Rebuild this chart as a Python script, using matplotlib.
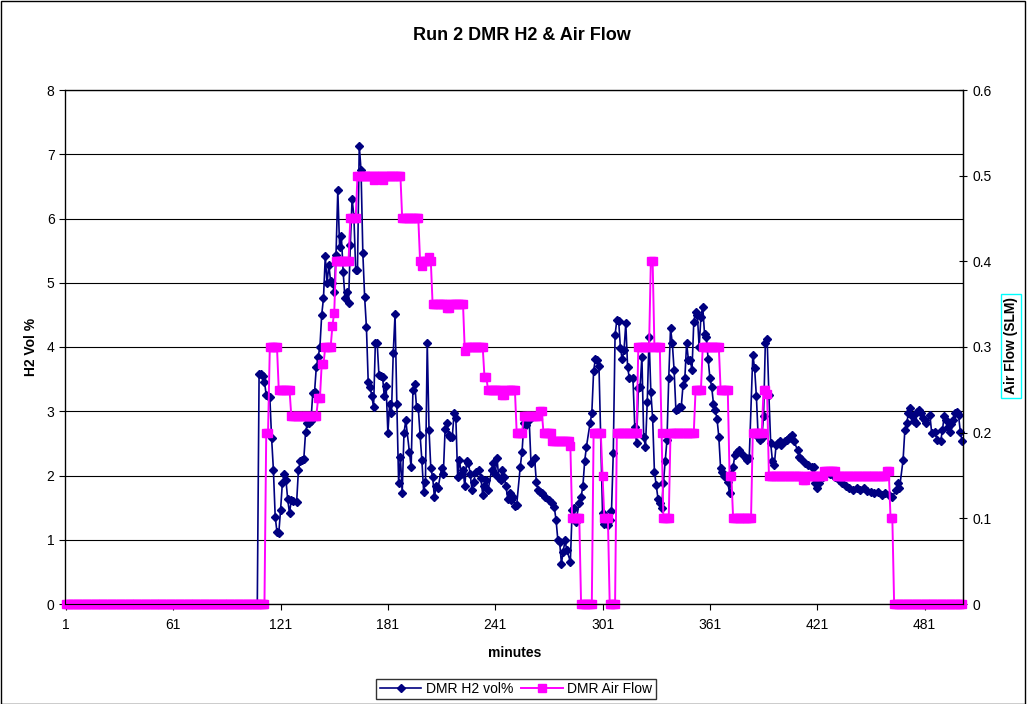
import numpy as np
import matplotlib.pyplot as plt
from matplotlib.patches import Rectangle

plt.rcParams['font.family'] = ['Liberation Sans', 'DejaVu Sans']

# --- datos: H2 vol% (minuto, valor), antes del minuto 109 todo es cero
h2_zero_end = 108
h2_min = [109, 110, 111, 112, 113, 114, 115, 116, 117, 118,
          119, 120, 121, 122, 123, 124, 125, 126, 127, 128,
          130, 131, 132, 133, 134, 135, 136, 137, 138, 139,
          140, 141, 142, 143, 144, 145, 146, 147, 148, 149,
          150, 151, 152, 153, 154, 155, 156, 157, 158, 159,
          160, 161, 162, 163, 164, 165, 166, 167, 168, 169,
          170, 171, 172, 173, 174, 175, 176, 177, 178, 179,
          180, 181, 182, 183, 184, 185, 186, 187, 188, 189,
          190, 191, 193, 194, 195, 196, 197, 198, 199, 200,
          201, 202, 203, 204, 205, 206, 207, 208, 209, 211,
          212, 213, 214, 215, 216, 217, 218, 219, 220, 221,
          222, 223, 224, 225, 226, 227, 228, 229, 230, 232,
          233, 234, 235, 236, 237, 239, 240, 241, 242, 243,
          244, 245, 246, 247, 248, 249, 250, 251, 252, 253,
          255, 256, 257, 258, 259, 260, 261, 263, 264, 265,
          266, 267, 269, 271, 273, 274, 275, 276, 277, 278,
          279, 280, 281, 283, 284, 285, 286, 288, 289, 290,
          291, 292, 294, 295, 296, 297, 298, 299, 301, 302,
          303, 304, 305, 306, 307, 308, 309, 310, 311, 312,
          313, 314, 315, 316, 318, 319, 320, 321, 322, 323,
          324, 325, 326, 327, 328, 329, 330, 331, 332, 333,
          334, 335, 336, 337, 338, 339, 340, 341, 342, 343,
          344, 345, 346, 347, 348, 349, 350, 351, 352, 353,
          354, 355, 356, 357, 358, 359, 360, 361, 362, 363,
          364, 365, 366, 367, 368, 369, 370, 371, 372, 373,
          374, 375, 376, 377, 378, 380, 381, 382, 383, 385,
          386, 387, 388, 389, 390, 391, 392, 393, 394, 395,
          396, 397, 398, 399, 400, 401, 403, 404, 405, 406,
          407, 408, 410, 411, 412, 414, 416, 418, 419, 420,
          421, 422, 424, 426, 428, 430, 431, 433, 435, 437,
          439, 441, 443, 445, 447, 449, 451, 453, 455, 457,
          459, 461, 463, 465, 466, 467, 469, 470, 471, 472,
          473, 474, 475, 476, 477, 478, 479, 480, 481, 482,
          484, 485, 487, 488, 490, 491, 492, 493, 494, 495,
          496, 497, 498, 499, 500, 501, 502]
h2_val = [3.58, 3.58, 3.55, 3.46, 3.25, 3.24, 3.22, 2.58, 2.09, 1.36,
          1.12, 1.10, 1.46, 1.88, 2.03, 1.93, 1.63, 1.41, 1.62, 1.60,
          1.59, 2.09, 2.22, 2.24, 2.26, 2.68, 2.81, 2.82, 2.85, 3.28,
          3.30, 3.69, 3.85, 4.00, 4.50, 4.76, 5.41, 4.99, 5.28, 5.02,
          4.99, 4.86, 5.43, 6.44, 5.56, 5.72, 5.17, 4.76, 4.86, 4.68,
          5.59, 6.31, 6.03, 5.20, 5.20, 7.13, 6.75, 5.46, 4.78, 4.31,
          3.46, 3.38, 3.24, 3.06, 4.07, 4.07, 3.56, 3.55, 3.54, 3.23,
          3.39, 2.66, 3.12, 2.97, 3.91, 4.51, 3.12, 1.89, 2.29, 1.73,
          2.66, 2.86, 2.37, 2.13, 3.33, 3.43, 3.07, 3.05, 2.63, 2.24,
          1.75, 1.90, 4.07, 2.71, 2.11, 1.98, 1.67, 1.83, 1.80, 2.11,
          2.03, 2.73, 2.81, 2.63, 2.60, 2.60, 2.97, 2.89, 1.98, 2.24,
          2.03, 2.09, 1.83, 2.22, 2.19, 2.03, 1.77, 1.90, 2.06, 2.08,
          1.96, 1.70, 1.83, 1.93, 1.77, 2.09, 2.19, 2.03, 2.27, 1.96,
          1.93, 2.09, 1.98, 1.83, 1.64, 1.72, 1.62, 1.67, 1.53, 1.54,
          2.14, 2.37, 2.81, 2.79, 2.86, 2.86, 2.19, 2.27, 1.90, 1.77,
          1.75, 1.72, 1.67, 1.62, 1.57, 1.51, 1.31, 1.00, 0.97, 0.63,
          0.81, 0.99, 0.84, 0.66, 1.46, 1.49, 1.28, 1.57, 1.67, 1.83,
          2.22, 2.45, 2.81, 2.97, 3.62, 3.82, 3.80, 3.70, 1.41, 1.25,
          1.33, 1.23, 1.30, 1.44, 2.35, 4.19, 4.42, 4.41, 3.98, 3.81,
          3.95, 4.37, 3.69, 3.51, 3.51, 2.76, 2.50, 3.36, 3.38, 3.85,
          2.60, 2.45, 3.15, 4.16, 3.30, 2.89, 2.06, 1.85, 1.64, 1.57,
          1.49, 1.88, 2.22, 2.55, 3.51, 4.29, 4.06, 3.64, 3.02, 3.04,
          3.06, 3.07, 3.41, 3.51, 4.06, 3.80, 3.80, 3.64, 4.39, 4.55,
          4.50, 4.00, 4.47, 4.63, 4.21, 4.16, 3.82, 3.52, 3.38, 3.12,
          3.02, 2.88, 2.60, 2.11, 2.06, 2.00, 1.98, 1.90, 1.72, 2.03,
          2.14, 2.32, 2.36, 2.40, 2.37, 2.30, 2.27, 2.24, 2.27, 3.88,
          3.67, 3.23, 2.60, 2.55, 2.58, 2.92, 4.06, 4.13, 3.25, 2.50,
          2.22, 2.16, 2.47, 2.50, 2.53, 2.47, 2.53, 2.55, 2.58, 2.60,
          2.63, 2.53, 2.40, 2.29, 2.25, 2.19, 2.17, 2.14, 2.13, 1.88,
          1.80, 1.88, 1.98, 2.03, 2.03, 2.01, 1.98, 1.93, 1.88, 1.83,
          1.80, 1.78, 1.80, 1.77, 1.80, 1.76, 1.74, 1.72, 1.74, 1.70,
          1.72, 1.70, 1.67, 1.77, 1.88, 1.80, 2.24, 2.71, 2.81, 2.97,
          3.05, 2.92, 2.85, 2.81, 2.99, 3.02, 2.97, 2.90, 2.86, 2.81,
          2.94, 2.66, 2.68, 2.55, 2.53, 2.71, 2.92, 2.86, 2.75, 2.68,
          2.80, 2.86, 2.97, 2.99, 2.94, 2.68, 2.53]

# --- datos: flujo de aire (SLM) como tramos constantes (valor, minutos)
air_val = [0, 0.2, 0.3, 0.25, 0.22, 0.24, 0.28, 0.3, 0.325, 0.34,
           0.4, 0.45, 0.5, 0.495, 0.5, 0.495, 0.5, 0.45, 0.4, 0.395,
           0.4, 0.405, 0.4, 0.35, 0.345, 0.35, 0.295, 0.3, 0.265, 0.25,
           0.244, 0.25, 0.2, 0.22, 0.225, 0.2, 0.19, 0.185, 0.1, 0,
           0.2, 0.15, 0.1, 0, 0.2, 0.3, 0.4, 0.3, 0.2, 0.1,
           0.2, 0.25, 0.3, 0.25, 0.15, 0.1, 0.2, 0.25, 0.245, 0.15,
           0.145, 0.15, 0.155, 0.15, 0.155, 0.1, 0]
air_len = [112, 2, 5, 7, 15, 2, 2, 4, 1, 1,
           8, 4, 9, 1, 4, 1, 10, 10, 1, 1,
           3, 1, 1, 8, 2, 8, 1, 10, 2, 8,
           2, 6, 4, 9, 2, 5, 10, 1, 5, 7,
           5, 1, 3, 4, 12, 7, 2, 4, 1, 4,
           14, 4, 10, 5, 2, 11, 6, 2, 1, 19,
           2, 10, 7, 28, 2, 2, 39]

x_labels = [1, 61, 121, 181, 241, 301, 361, 421, 481]

h2_x = list(range(1, h2_zero_end + 1)) + h2_min
h2_y = [0.0] * h2_zero_end + h2_val
air_y = np.repeat(air_val, air_len)
air_x = np.arange(1, len(air_y) + 1)

W, H = 1028, 704
fig = plt.figure(figsize=(W / 100, H / 100), dpi=100)
ax = fig.add_axes([65 / W, 1 - 604 / H, 898 / W, 514 / H])

ax.set_xlim(0.5, len(air_y) + 0.5)
ax.set_ylim(0, 8)
ax.set_yticks(range(9))
ax.set_xticks(x_labels)
ax.set_xticklabels([str(v) for v in x_labels])
ax.grid(axis='y', color='black', lw=0.8)
ax.set_axisbelow(True)
ax.tick_params(direction='out', length=4, width=0.8, labelsize=10, colors='black')
ax.tick_params(axis='x', pad=6)
for s in ax.spines.values():
    s.set_color('black')
    s.set_linewidth(0.9)

l1, = ax.plot(h2_x, h2_y, color='#000080', lw=1.2, marker='D', ms=3.8,
              mec='#000080', mfc='#000080', clip_on=False, zorder=3)

ax2 = ax.twinx()
ax2.set_ylim(0, 0.6)
ax2.set_yticks([0, 0.1, 0.2, 0.3, 0.4, 0.5, 0.6])
ax2.set_yticklabels(['0', '0.1', '0.2', '0.3', '0.4', '0.5', '0.6'])
ax2.tick_params(direction='inout', length=6, width=0.8, labelsize=10, pad=4)
ax2.spines['right'].set_linewidth(0.9)
l2, = ax2.plot(air_x, air_y, color='#FF00FF', lw=1.4, marker='s', ms=6,
               mec='#FF00FF', mfc='#FF00FF', clip_on=False)

# textos
fig.text(522 / W, 1 - 35 / H, 'Run 2 DMR H2 & Air Flow', ha='center', va='center',
         fontsize=13, fontweight='bold')
fig.text(31 / W, 1 - 347 / H, 'H2 Vol %', rotation=90, ha='center', va='center',
         fontsize=10, fontweight='bold')
fig.text(515 / W, 1 - 653 / H, 'minutes', ha='center', va='center',
         fontsize=10, fontweight='bold')
fig.text(1011 / W, 1 - 346 / H, 'Air Flow (SLM)', rotation=90, ha='center', va='center',
         fontsize=10, fontweight='bold',
         bbox=dict(boxstyle='square,pad=0.25', facecolor='white', edgecolor='#00FFFF', lw=1))

leg = fig.legend([l1, l2], ['DMR H2 vol%', 'DMR Air Flow'], loc='center',
                 bbox_to_anchor=(516 / W, 1 - 689 / H), ncol=2, fontsize=10,
                 frameon=True, fancybox=False, edgecolor='black', handlelength=3,
                 handletextpad=0.3, columnspacing=0.6, borderpad=0.25)
leg.get_frame().set_linewidth(1.0)

# borde exterior del grafico
fig.add_artist(Rectangle((0.5 / W, 0.5 / H), 1 - 4 / W, 1 - 1.5 / H,
                         transform=fig.transFigure, fill=False,
                         edgecolor='black', lw=1))

fig.savefig('out.png', dpi=100, facecolor='white')
